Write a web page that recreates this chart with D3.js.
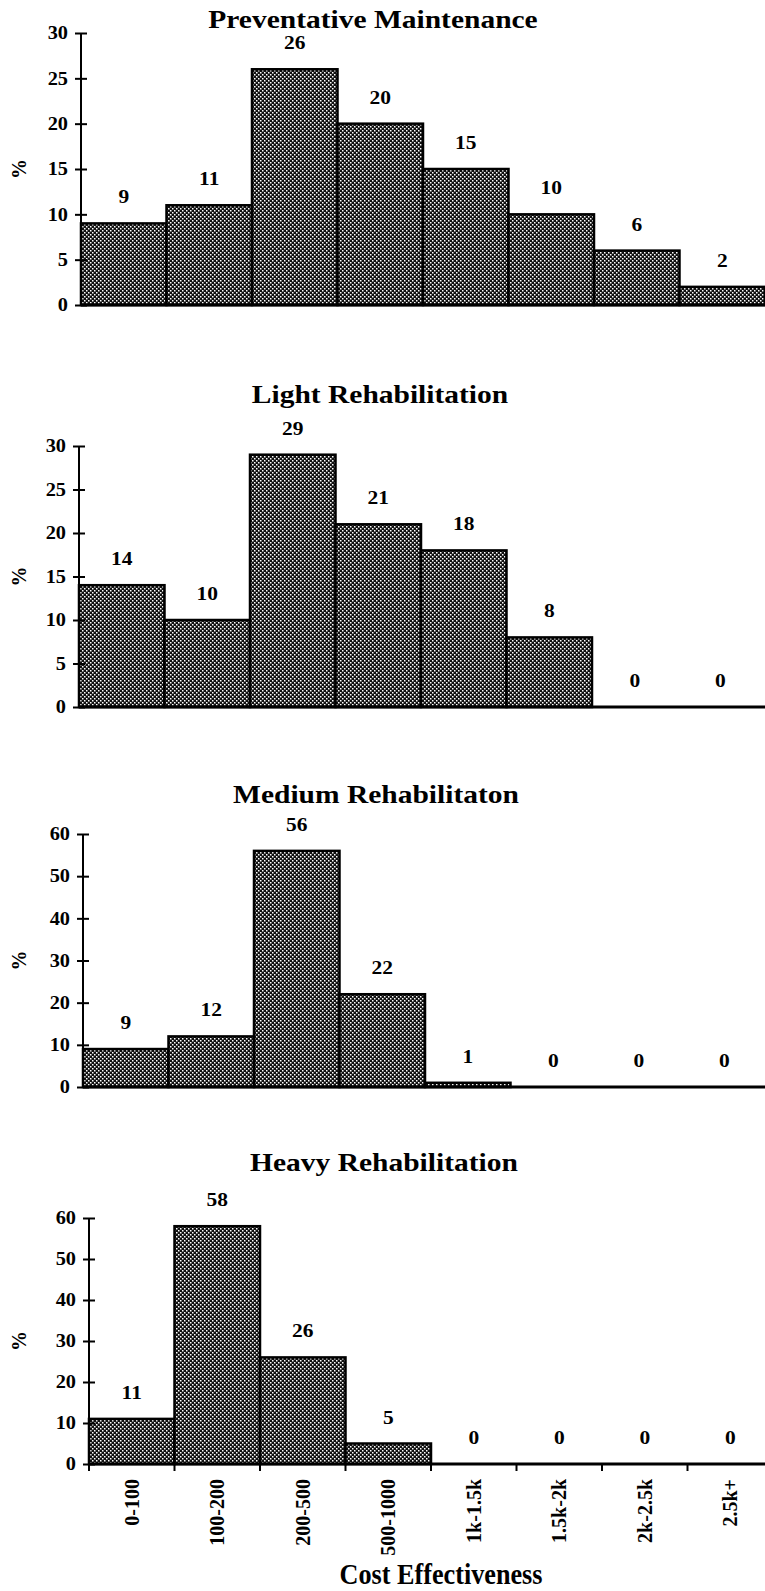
<!DOCTYPE html>
<html>
<head>
<meta charset="utf-8">
<script src="https://cdn.jsdelivr.net/npm/d3@7"></script>
<style>
  body { margin: 0; background: #fff; }
  svg { display: block; font-family: "Liberation Serif", "Times New Roman", serif; }
</style>
</head>
<body>
<svg id="chart"></svg>
<script>
// Data
const categories = ["0-100", "100-200", "200-500", "500-1000", "1k-1.5k", "1.5k-2k", "2k-2.5k", "2.5k+"];
const preventative = [9, 11, 26, 20, 15, 10, 6, 2];
const light = [14, 10, 29, 21, 18, 8, 0, 0];
const medium = [9, 12, 56, 22, 1, 0, 0, 0];
const heavy = [11, 58, 26, 5, 0, 0, 0, 0];
const titles = ["Preventative Maintenance", "Light Rehabilitation", "Medium Rehabilitaton", "Heavy Rehabilitation"];
const ticks30 = [0, 5, 10, 15, 20, 25, 30];
const ticks60 = [0, 10, 20, 30, 40, 50, 60];
const xTitle = "Cost Effectiveness";
const yTitle = "%";

const W = 765, H = 1591;
const svg = d3.select("#chart").attr("width", W).attr("height", H);

// dotted dither like the scanned bars
const pat = svg.append("defs").append("pattern")
    .attr("id", "dots")
    .attr("patternUnits", "userSpaceOnUse")
    .attr("width", 4).attr("height", 4);
pat.append("rect").attr("width", 4).attr("height", 4).attr("fill", "#111");
pat.append("rect").attr("x", 0).attr("y", 0).attr("width", 1.5).attr("height", 1.5).attr("fill", "#fff");
pat.append("rect").attr("x", 2).attr("y", 2).attr("width", 1.5).attr("height", 1.5).attr("fill", "#fff");

// the scan's lettering is a bit wider than Times
const stretch = 1.13;

// panel layout: plot left edge, y at max, y at zero, title position
const panels = [
    { values: preventative, ticks: ticks30, max: 30, left: 81, top: 33, bottom: 305, titleX: 373, titleY: 28 },
    { values: light, ticks: ticks30, max: 30, left: 79, top: 446, bottom: 707, titleX: 380, titleY: 403 },
    { values: medium, ticks: ticks60, max: 60, left: 83, top: 834, bottom: 1087, titleX: 376, titleY: 803 },
    { values: heavy, ticks: ticks60, max: 60, left: 89, top: 1218, bottom: 1464, titleX: 384, titleY: 1171, xLabels: true }
];
const plotWidth = 684;

panels.forEach((p, i) => {
    const g = svg.append("g");

    const x = d3.scaleBand()
        .domain(categories)
        .range([p.left, p.left + plotWidth])
        .padding(0);

    const y = d3.scaleLinear()
        .domain([0, p.max])
        .range([p.bottom, p.top]);

    // title
    g.append("text")
        .attr("transform", `translate(${p.titleX},${p.titleY}) scale(1.18,1)`)
        .attr("text-anchor", "middle")
        .attr("font-size", 25)
        .attr("font-weight", "bold")
        .text(titles[i]);

    // bars
    const data = categories.map((c, j) => ({ cat: c, v: p.values[j] }));
    g.selectAll(".bar")
        .data(data)
        .enter()
        .append("rect")
        .attr("class", "bar")
        .attr("x", d => x(d.cat))
        .attr("y", d => y(d.v))
        .attr("width", x.bandwidth())
        .attr("height", d => y(0) - y(d.v))
        .attr("fill", "url(#dots)")
        .attr("stroke", "#000")
        .attr("stroke-width", 2.5);

    // value labels
    g.selectAll(".val")
        .data(data)
        .enter()
        .append("text")
        .attr("class", "val")
        .attr("transform", d => `translate(${x(d.cat) + x.bandwidth() / 2},${y(d.v) - 20}) scale(${stretch},1)`)
        .attr("text-anchor", "middle")
        .attr("font-size", 19)
        .attr("font-weight", "bold")
        .text(d => d.v);

    // x baseline
    g.append("line")
        .attr("x1", p.left).attr("x2", W)
        .attr("y1", y(0)).attr("y2", y(0))
        .attr("stroke", "#000")
        .attr("stroke-width", 3);

    // y axis
    const yAxis = g.append("g")
        .attr("transform", `translate(${p.left},0)`)
        .call(d3.axisLeft(y).tickValues(p.ticks).tickSize(6).tickPadding(7));
    yAxis.select(".domain").attr("stroke-width", 2).attr("d", `M0,${y(0)}V${y(p.max)}`);
    yAxis.selectAll(".tick line").attr("x1", 6).attr("stroke-width", 2);
    yAxis.selectAll(".tick text")
        .attr("font-size", 18)
        .attr("font-weight", "bold")
        .attr("font-family", "Liberation Serif, serif")
        .attr("fill", "#000")
        .attr("transform", `translate(-13,0) scale(${stretch},1)`)
        .attr("x", null);

    // y title
    g.append("text")
        .attr("transform", `translate(26,${(p.top + p.bottom) / 2}) rotate(-90)`)
        .attr("text-anchor", "middle")
        .attr("font-size", 20)
        .attr("font-weight", "bold")
        .text(yTitle);

    if (p.xLabels) {
        // boundary ticks
        g.selectAll(".xtick")
            .data(categories)
            .enter()
            .append("line")
            .attr("x1", d => x(d)).attr("x2", d => x(d))
            .attr("y1", y(0)).attr("y2", y(0) + 7)
            .attr("stroke", "#000")
            .attr("stroke-width", 2);

        g.selectAll(".xlab")
            .data(categories)
            .enter()
            .append("text")
            .attr("transform", d => `translate(${x(d) + x.bandwidth() / 2},${y(0) + 15}) rotate(-90)`)
            .attr("text-anchor", "end")
            .attr("dy", "0.35em")
            .attr("font-size", 20)
            .attr("font-weight", "bold")
            .text(d => d);

        g.append("text")
            .attr("transform", `translate(441,1584) scale(0.97,1.1)`)
            .attr("text-anchor", "middle")
            .attr("font-size", 27)
            .attr("font-weight", "bold")
            .text(xTitle);
    }
});
</script>
</body>
</html>
